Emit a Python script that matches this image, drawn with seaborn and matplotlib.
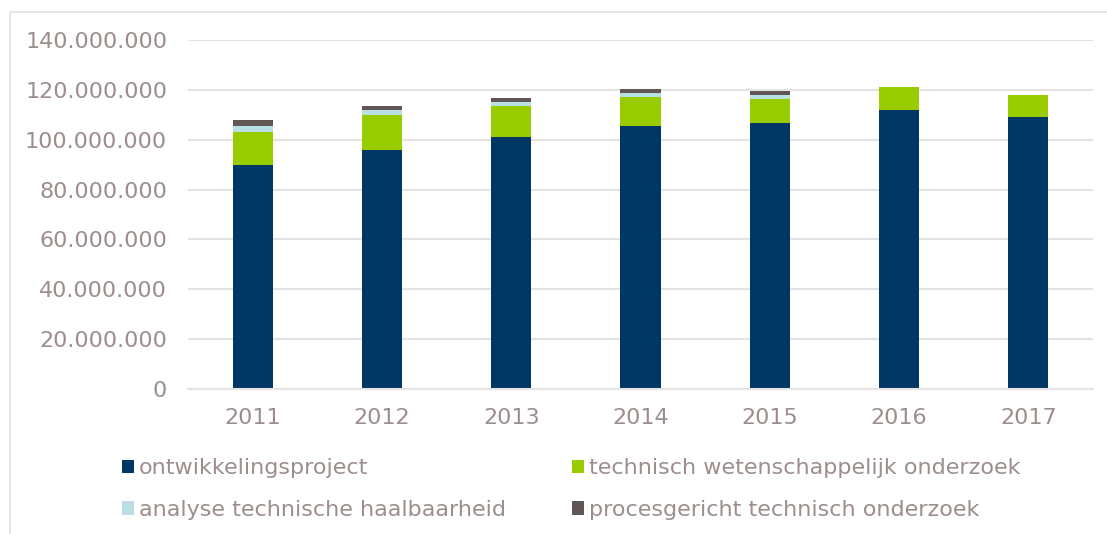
import numpy as np
import pandas as pd
from matplotlib import pyplot as plt
from matplotlib.patches import Rectangle, Patch
from matplotlib.ticker import FuncFormatter
import seaborn as sns

sns.set_style('white')
plt.rcParams['font.family'] = ['DejaVu Sans']

# Data (euro per year)
years = ['2011', '2012', '2013', '2014', '2015', '2016', '2017']
ontwikkeling = [90.0e6, 95.9e6, 101.1e6, 105.5e6, 106.8e6, 111.9e6, 109.1e6]
technisch = [13.2e6, 14.0e6, 12.4e6, 11.6e6, 9.5e6, 9.1e6, 8.8e6]
analyse = [2.3e6, 2.1e6, 1.5e6, 1.6e6, 1.6e6, 0.0, 0.0]
procesgericht = [2.3e6, 1.6e6, 1.6e6, 1.5e6, 1.6e6, 0.0, 0.0]

series_names = ['ontwikkelingsproject', 'technisch wetenschappelijk onderzoek',
                'analyse technische haalbaarheid', 'procesgericht technisch onderzoek']
colors = ['#003764', '#99cc00', '#b8e0e2', '#605656']
text_color = '#9b8e8c'

df = pd.DataFrame({'year': years,
                   series_names[0]: ontwikkeling,
                   series_names[1]: technisch,
                   series_names[2]: analyse,
                   series_names[3]: procesgericht})

# cumulative sums for the stacked look
cum = df[series_names].cumsum(axis=1)

fig = plt.figure(figsize=(11.07, 5.34), dpi=100)
ax = fig.add_axes([188 / 1107, 1 - 389 / 534, (1093 - 188) / 1107, (389 - 40) / 534])

# draw from top layer down so lower layers cover the upper ones
for name, col in reversed(list(zip(series_names, colors))):
    sns.barplot(x=df['year'], y=cum[name], color=col, width=0.31,
                saturation=1, linewidth=0, ax=ax)

ax.set_ylim(0, 140e6)
ax.set_xlim(-0.5, 6.5)
ax.set_yticks(np.arange(0, 140e6 + 1, 20e6))
ax.yaxis.set_major_formatter(FuncFormatter(lambda v, p: f'{int(v):,}'.replace(',', '.')))
ax.set_xlabel('')
ax.set_ylabel('')

ax.yaxis.grid(True, color='#e6e2e2', linewidth=1.5)
ax.set_axisbelow(True)
for s in ['top', 'right', 'left']:
    ax.spines[s].set_visible(False)
ax.spines['bottom'].set_color('#e6e2e2')
ax.spines['bottom'].set_linewidth(1.5)

ax.tick_params(axis='y', length=0, pad=15, labelsize=16, labelcolor=text_color)
ax.tick_params(axis='x', length=0, pad=14, labelsize=16, labelcolor=text_color)

# legend, two columns, row-wise order
order = [0, 2, 1, 3]
handles = [Patch(facecolor=colors[i], edgecolor='none') for i in order]
labels = [series_names[i] for i in order]
leg = fig.legend(handles, labels, ncol=2, loc='upper left',
                 bbox_to_anchor=(111 / 1107, 1 - 447 / 534), frameon=False,
                 fontsize=16, labelcolor=text_color, handlelength=0.55,
                 handleheight=0.55, handletextpad=0.22, columnspacing=2.95,
                 labelspacing=0.97, borderpad=0)

# outer chart frame
fig.patches.append(Rectangle((10 / 1107, -0.1), 1.2, 1 - 12 / 534 + 0.1,
                             transform=fig.transFigure, fill=False,
                             edgecolor='#e3e0e0', linewidth=1.2))

fig.savefig('out.png', dpi=100)
